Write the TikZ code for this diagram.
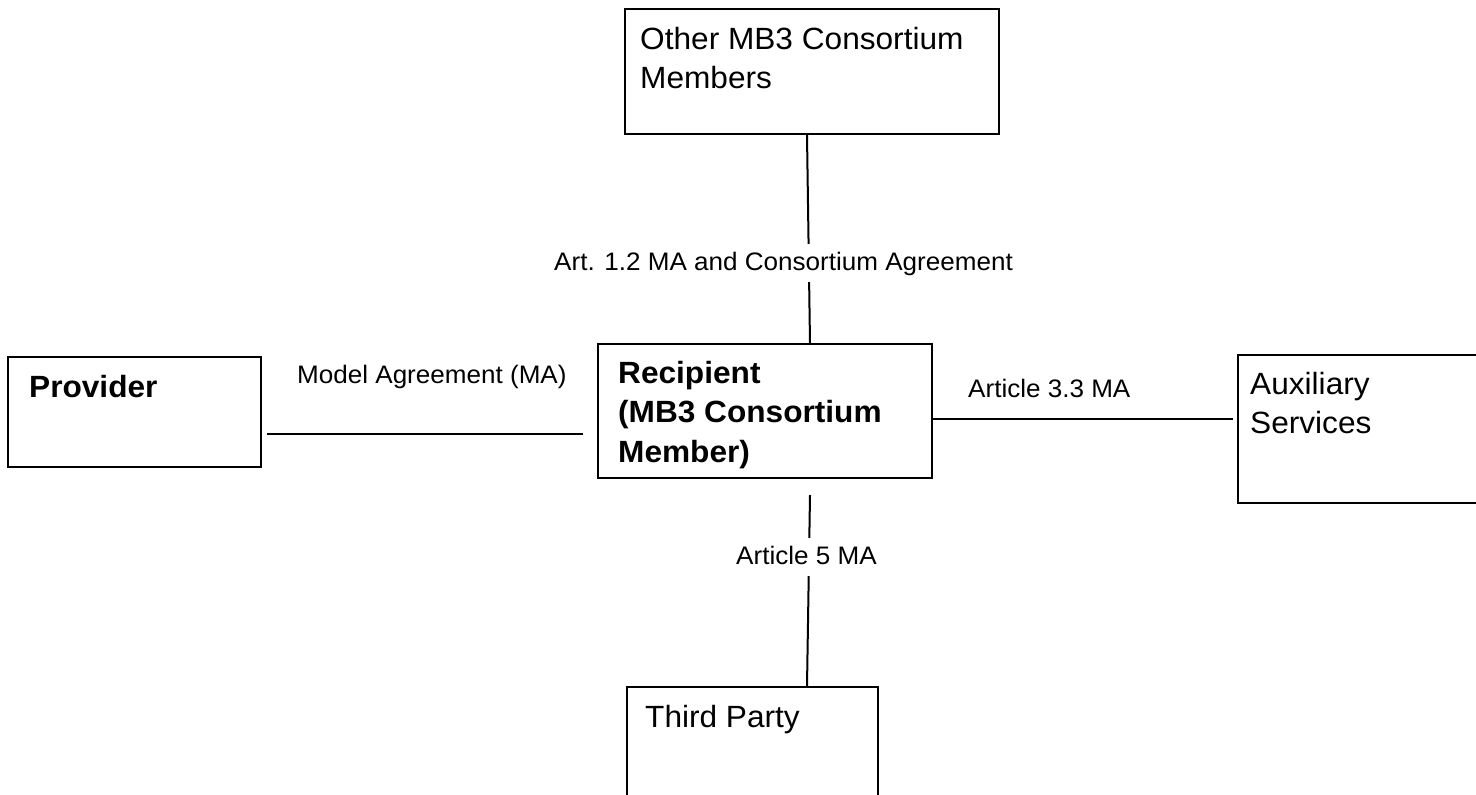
\documentclass[tikz,border=0pt]{standalone}
\usepackage{fontspec}
\setmainfont{Liberation Sans}[FakeStretch=1.03]
\begin{document}
\begin{tikzpicture}[x=1pt,y=-1pt,
  box/.style={draw, line width=2pt, rectangle, inner sep=0pt, anchor=north west},
  boxtext/.style={font=\fontsize{30.7}{38.5}\selectfont, align=left, anchor=base west, inner sep=0pt},
  boldtext/.style={boxtext, font=\fontsize{30.7}{39.5}\selectfont\bfseries},
  lbl/.style={font=\fontsize{25.3}{28}\selectfont, anchor=base west, inner xsep=0pt,
              inner ysep=9.5pt, text height=17pt, text depth=2.5pt},
  gaplbl/.style={lbl, fill=white},
  link/.style={line width=2pt}]
\useasboundingbox (0,0) rectangle (1476,795);
\clip (0,0) rectangle (1476,795);

% boxes
\node[box, minimum width=374pt, minimum height=125pt] (members) at (624,8) {};
\node[box, minimum width=253pt, minimum height=110pt] (provider) at (7,356) {};
\node[box, minimum width=334pt, minimum height=134pt] (recipient) at (597,343) {};
\node[box, minimum width=260pt, minimum height=148pt] (aux) at (1237,354) {};
\node[box, minimum width=251pt, minimum height=140pt] (third) at (626,686) {};

% box texts (placed by the baseline of their last line)
\node[boxtext] (memberstext) at (640,88) {Other MB3 Consortium\\Members};
\node[boldtext] (providertext) at (29,397) {Provider};
\node[boldtext] (recipienttext) at (618,462) {Recipient\\(MB3 Consortium\\Member)};
\node[boxtext] (auxtext) at (1250,433) {Auxiliary\\Services};
\node[boxtext] (thirdtext) at (645,727) {Third Party};

% connectors
\draw[link] ([xshift=-5pt]members.south) -- ([xshift=45pt]recipient.north);
\draw[link] ([xshift=5pt,yshift=-22pt]provider.east) -- ([xshift=-14pt,yshift=-23pt]recipient.west);
\draw[link] ([yshift=-8pt]recipient.east) -- ([xshift=-4pt,yshift=10pt]aux.west);
\draw[link] ([xshift=45pt,yshift=-16pt]recipient.south) -- ([xshift=54.5pt]third.north);

% connector labels
\node[lbl] (ma) at (297,383) {Model Agreement (MA)};
\node[gaplbl] (art12) at (554,270) {Art. 1.2 MA and Consortium Agreement};
\node[lbl] (art33) at (968,397) {Article 3.3 MA};
\node[gaplbl] (art5) at (736,564) {Article 5 MA};
\end{tikzpicture}
\end{document}
